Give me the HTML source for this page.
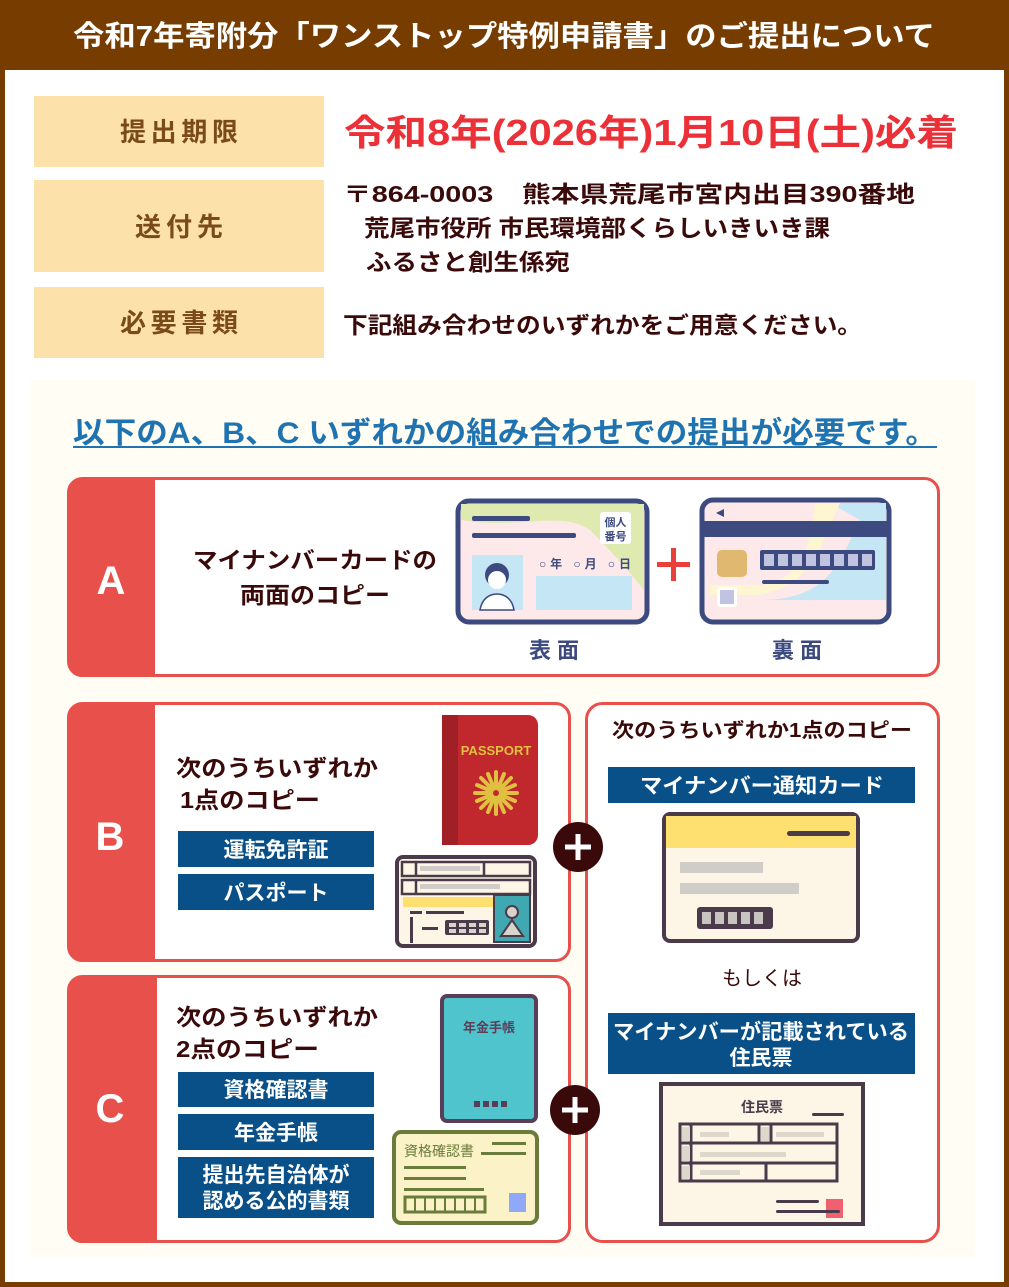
<!DOCTYPE html>
<html><head><meta charset="utf-8"><style>
html,body{margin:0;padding:0;background:#763c00}
svg{display:block}
text{font-family:"Liberation Sans","Noto Sans CJK JP",sans-serif;font-weight:bold}
</style></head><body>
<svg width="1009" height="1287" viewBox="0 0 1009 1287" xmlns="http://www.w3.org/2000/svg">
<rect x="0" y="0" width="1009" height="1287" fill="#763c00"/>
<rect x="5" y="70" width="999" height="1212" fill="#fff"/>
<text x="73" y="46" font-size="29" fill="#fff" textLength="862" lengthAdjust="spacingAndGlyphs">令和7年寄附分「ワンストップ特例申請書」のご提出について</text>

<rect x="34" y="96" width="290" height="71" fill="#fde1aa"/>
<rect x="34" y="180" width="290" height="92" fill="#fde1aa"/>
<rect x="34" y="287" width="290" height="71" fill="#fde1aa"/>
<g font-size="26" fill="#7a4a1a">
<text x="120" y="141" textLength="118">提出期限</text>
<text x="135" y="236" textLength="88">送付先</text>
<text x="120" y="332" textLength="118">必要書類</text>
</g>
<text x="344" y="145" font-size="36" fill="#ec3038" textLength="614" lengthAdjust="spacingAndGlyphs">令和8年(2026年)1月10日(土)必着</text>
<g font-size="23" fill="#3a0a0a">
<text x="343" y="202" textLength="572" lengthAdjust="spacingAndGlyphs">〒864-0003　熊本県荒尾市宮内出目390番地</text>
<text x="364" y="236" textLength="466" lengthAdjust="spacingAndGlyphs">荒尾市役所 市民環境部くらしいきいき課</text>
<text x="366" y="270" textLength="204" lengthAdjust="spacingAndGlyphs">ふるさと創生係宛</text>
<text x="343" y="333" textLength="519" lengthAdjust="spacingAndGlyphs">下記組み合わせのいずれかをご用意ください。</text>
</g>

<rect x="30" y="380" width="945" height="878" fill="#fffdf4"/>
<text x="73" y="443" font-size="30" fill="#1e73b0" textLength="864" lengthAdjust="spacingAndGlyphs">以下のA、B、C いずれかの組み合わせでの提出が必要です。</text>
<rect x="73" y="446" width="864" height="2" fill="#1e73b0"/>

<!-- Box A -->
<rect x="68.5" y="478.5" width="870" height="197" rx="14" fill="#fff" stroke="#e8504c" stroke-width="3"/>
<path d="M68 492a14 14 0 0 1 14-14H155V677H82a14 14 0 0 1-14-14Z" fill="#e8504c"/>
<text x="111" y="594" font-size="40" fill="#fff" text-anchor="middle">A</text>
<g font-size="23" fill="#3a0a0a">
<text x="193" y="568" textLength="244" lengthAdjust="spacingAndGlyphs">マイナンバーカードの</text>
<text x="240" y="603" textLength="150" lengthAdjust="spacingAndGlyphs">両面のコピー</text>
</g>
<!-- front card -->
<rect x="458" y="501" width="189" height="121" rx="11" fill="#fde8ea" stroke="#3d4a80" stroke-width="5"/>
<path d="M461 504H644V590C620 560 600 540 590 530C560 510 520 530 461 520Z" fill="#dfeab0"/>
<rect x="472" y="516" width="58" height="5" rx="2" fill="#3d4a80"/>
<rect x="472" y="533" width="104" height="5" rx="2" fill="#3d4a80"/>
<rect x="600" y="512" width="31" height="32" rx="3" fill="#fff"/>
<text x="615.5" y="526" font-size="11" fill="#3d4a80" text-anchor="middle">個人</text>
<text x="615.5" y="540" font-size="11" fill="#3d4a80" text-anchor="middle">番号</text>
<rect x="472" y="555" width="51" height="55" fill="#c4e6f5"/>
<circle cx="497" cy="575" r="12" fill="#3d4a80"/><circle cx="497" cy="580" r="9" fill="#fff"/>
<path d="M480 610C482 598 490 594 497 594C504 594 512 598 514 610Z" fill="#fff" stroke="#3d4a80" stroke-width="1.5"/>
<text x="539" y="568" font-size="12" fill="#3d4a80" textLength="92">○年 ○月 ○日</text>
<rect x="536" y="576" width="96" height="34" fill="#c4e6f5"/>
<!-- plus -->
<rect x="657" y="562" width="33" height="5" fill="#e8413b"/><rect x="671" y="548" width="5" height="33" fill="#e8413b"/>
<!-- back card -->
<rect x="702" y="500" width="187" height="122" rx="11" fill="#fde8ea" stroke="#3d4a80" stroke-width="5"/>
<path d="M830 503H886V600H760C830 600 840 560 860 520Z" fill="#c4e6f5"/>
<path d="M815 503H840C820 550 810 585 760 595H710V585H760C800 580 810 550 815 503Z" fill="#fdf6d0"/>
<rect x="704" y="521" width="183" height="16" fill="#3d4a80"/>
<path d="M716 513L724 509V517Z" fill="#3d4a80"/>
<rect x="717" y="550" width="30" height="27" rx="5" fill="#e0b870"/>
<rect x="760" y="550" width="115" height="20" rx="2" fill="#3d4a80"/>
<g fill="#c0c4e0"><rect x="764" y="554" width="10" height="12"/><rect x="778" y="554" width="10" height="12"/><rect x="792" y="554" width="10" height="12"/><rect x="806" y="554" width="10" height="12"/><rect x="820" y="554" width="10" height="12"/><rect x="834" y="554" width="10" height="12"/><rect x="848" y="554" width="10" height="12"/><rect x="862" y="554" width="10" height="12"/></g>
<rect x="762" y="580" width="67" height="4" rx="2" fill="#3d4a80"/>
<rect x="717" y="587" width="20" height="20" rx="3" fill="#fff"/><rect x="720" y="590" width="14" height="14" fill="#c0c4e0"/>
<g font-size="22" fill="#3d4a80" text-anchor="middle" letter-spacing="6">
<text x="557" y="658">表面</text><text x="800" y="658">裏面</text>
</g>

<!-- Box B -->
<rect x="68.5" y="703.5" width="501" height="257" rx="14" fill="#fff" stroke="#e8504c" stroke-width="3"/>
<path d="M68 717a14 14 0 0 1 14-14H155V962H82a14 14 0 0 1-14-14Z" fill="#e8504c"/>
<text x="110" y="850" font-size="40" fill="#fff" text-anchor="middle">B</text>
<g font-size="23" fill="#3a0a0a">
<text x="176" y="776" textLength="202" lengthAdjust="spacingAndGlyphs">次のうちいずれか</text>
<text x="180" y="808" textLength="140" lengthAdjust="spacingAndGlyphs">1点のコピー</text>
</g>
<rect x="178" y="831" width="196" height="36" fill="#0a5088"/>
<rect x="178" y="874" width="196" height="36" fill="#0a5088"/>
<g font-size="21" fill="#fff" text-anchor="middle">
<text x="276" y="857">運転免許証</text><text x="276" y="900">パスポート</text>
</g>
<!-- passport -->
<path d="M442 715H528a10 10 0 0 1 10 10V835a10 10 0 0 1-10 10H442Z" fill="#c0282e"/>
<rect x="442" y="715" width="16" height="130" fill="#a02026"/>
<text x="496" y="755" font-size="13" fill="#e0c040" text-anchor="middle">PASSPORT</text>
<g stroke="#e0c040" stroke-width="4" stroke-linecap="round">
<line x1="496" y1="772" x2="496" y2="814"/><line x1="475" y1="793" x2="517" y2="793"/>
<line x1="481" y1="778" x2="511" y2="808"/><line x1="511" y1="778" x2="481" y2="808"/>
<line x1="488" y1="774" x2="504" y2="812"/><line x1="504" y1="774" x2="488" y2="812"/>
<line x1="477" y1="785" x2="515" y2="801"/><line x1="515" y1="785" x2="477" y2="801"/>
</g>
<circle cx="496" cy="793" r="3" fill="#c0282e"/>
<!-- license -->
<rect x="397" y="857" width="138" height="89" rx="6" fill="#fdf6e6" stroke="#4a3a4a" stroke-width="4"/>
<g fill="none" stroke="#4a3a4a" stroke-width="2.5">
<rect x="402" y="862" width="128" height="14"/><rect x="402" y="880" width="128" height="14"/>
<line x1="416" y1="862" x2="416" y2="876"/><line x1="484" y1="862" x2="484" y2="876"/><line x1="416" y1="880" x2="416" y2="894"/>
</g>
<rect x="420" y="866" width="60" height="5" fill="#d0ccc8"/><rect x="420" y="884" width="80" height="5" fill="#d0ccc8"/>
<rect x="403" y="897" width="90" height="10" fill="#fde070"/>
<rect x="494" y="895" width="36" height="47" fill="#40a8b0" stroke="#4a3a4a" stroke-width="2"/>
<circle cx="512" cy="912" r="6" fill="#d8d4cc" stroke="#4a3a4a" stroke-width="2"/>
<path d="M501 936L512 920L523 936Z" fill="#d8d4cc" stroke="#4a3a4a" stroke-width="2"/>
<rect x="410" y="911" width="12" height="3" fill="#4a3a4a"/><rect x="426" y="911" width="38" height="3" fill="#4a3a4a"/>
<rect x="422" y="927" width="16" height="3" fill="#4a3a4a"/><rect x="410" y="917" width="3" height="26" fill="#4a3a4a"/>
<rect x="445" y="920" width="44" height="15" rx="2" fill="#4a3a4a"/>
<g fill="#d8d4cc"><rect x="449" y="923" width="7" height="4"/><rect x="459" y="923" width="7" height="4"/><rect x="469" y="923" width="7" height="4"/><rect x="479" y="923" width="7" height="4"/><rect x="449" y="929" width="7" height="4"/><rect x="459" y="929" width="7" height="4"/><rect x="469" y="929" width="7" height="4"/><rect x="479" y="929" width="7" height="4"/></g>

<!-- Box C -->
<rect x="68.5" y="976.5" width="501" height="265" rx="14" fill="#fff" stroke="#e8504c" stroke-width="3"/>
<path d="M68 990a14 14 0 0 1 14-14H157V1243H82a14 14 0 0 1-14-14Z" fill="#e8504c"/>
<text x="110" y="1122" font-size="40" fill="#fff" text-anchor="middle">C</text>
<g font-size="23" fill="#3a0a0a">
<text x="176" y="1025" textLength="202" lengthAdjust="spacingAndGlyphs">次のうちいずれか</text>
<text x="176" y="1057" textLength="143" lengthAdjust="spacingAndGlyphs">2点のコピー</text>
</g>
<rect x="178" y="1072" width="196" height="35" fill="#0a5088"/>
<rect x="178" y="1114" width="196" height="36" fill="#0a5088"/>
<rect x="178" y="1157" width="196" height="61" fill="#0a5088"/>
<g font-size="21" fill="#fff" text-anchor="middle">
<text x="276" y="1097">資格確認書</text><text x="276" y="1140">年金手帳</text>
<text x="276" y="1182">提出先自治体が</text><text x="276" y="1208">認める公的書類</text>
</g>
<rect x="442" y="996" width="94" height="125" rx="5" fill="#50c4cc" stroke="#5a3e58" stroke-width="4"/>
<text x="489" y="1032" font-size="13" fill="#5a3e58" text-anchor="middle">年金手帳</text>
<g fill="#5a3e58"><rect x="474" y="1101" width="6" height="6"/><rect x="483" y="1101" width="6" height="6"/><rect x="492" y="1101" width="6" height="6"/><rect x="501" y="1101" width="6" height="6"/></g>
<rect x="394" y="1132" width="143" height="91" rx="7" fill="#fbf2c8" stroke="#6a7c3a" stroke-width="4"/>
<text x="404" y="1156" font-size="14" fill="#6a7c3a" style="font-weight:normal">資格確認書</text>
<g fill="#6a7c3a"><rect x="492" y="1142" width="34" height="3"/><rect x="481" y="1152" width="45" height="3"/><rect x="404" y="1166" width="62" height="3"/><rect x="404" y="1177" width="62" height="3"/><rect x="404" y="1188" width="80" height="3"/></g>
<rect x="405" y="1197" width="80" height="15" fill="#fbf2c8" stroke="#6a7c3a" stroke-width="3"/>
<g stroke="#6a7c3a" stroke-width="2"><line x1="415" y1="1197" x2="415" y2="1212"/><line x1="425" y1="1197" x2="425" y2="1212"/><line x1="435" y1="1197" x2="435" y2="1212"/><line x1="445" y1="1197" x2="445" y2="1212"/><line x1="455" y1="1197" x2="455" y2="1212"/><line x1="465" y1="1197" x2="465" y2="1212"/><line x1="475" y1="1197" x2="475" y2="1212"/></g>
<rect x="509" y="1193" width="17" height="19" fill="#90a8f8"/>

<!-- right box -->
<rect x="586.5" y="703.5" width="352" height="538" rx="16" fill="#fff" stroke="#e8504c" stroke-width="3"/>
<text x="612" y="737" font-size="20" fill="#3a0a0a" textLength="300" lengthAdjust="spacingAndGlyphs">次のうちいずれか1点のコピー</text>
<rect x="608" y="767" width="307" height="36" fill="#0a5088"/>
<text x="640" y="793" font-size="21" fill="#fff" textLength="244" lengthAdjust="spacingAndGlyphs">マイナンバー通知カード</text>
<rect x="664" y="814" width="194" height="127" rx="6" fill="#fdf6e6" stroke="#4a3a4a" stroke-width="4"/>
<rect x="666" y="816" width="190" height="32" fill="#fde070"/>
<rect x="787" y="831" width="63" height="5" rx="2.5" fill="#4a3a4a"/>
<rect x="680" y="862" width="83" height="11" fill="#d0ccc8"/><rect x="680" y="883" width="119" height="11" fill="#d0ccc8"/>
<rect x="697" y="907" width="76" height="22" rx="3" fill="#4a3a4a"/>
<g fill="#c8c4c0"><rect x="702" y="912" width="9" height="12"/><rect x="715" y="912" width="9" height="12"/><rect x="728" y="912" width="9" height="12"/><rect x="741" y="912" width="9" height="12"/><rect x="754" y="912" width="9" height="12"/></g>
<text x="762" y="985" font-size="20" fill="#3a0a0a" text-anchor="middle" style="font-weight:normal">もしくは</text>
<rect x="608" y="1013" width="307" height="61" fill="#0a5088"/>
<text x="613" y="1039" font-size="21" fill="#fff" textLength="296" lengthAdjust="spacingAndGlyphs">マイナンバーが記載されている</text>
<text x="761" y="1065" font-size="21" fill="#fff" text-anchor="middle">住民票</text>
<rect x="661" y="1084" width="202" height="140" fill="#fdf6e6" stroke="#4a3a4a" stroke-width="4"/>
<text x="762" y="1112" font-size="14" fill="#4a3a4a" text-anchor="middle">住民票</text>
<rect x="812" y="1113" width="32" height="3" rx="1.5" fill="#4a3a4a"/>
<rect x="680" y="1124" width="157" height="57" fill="#fdf6e6" stroke="#4a3a4a" stroke-width="3"/>
<g stroke="#4a3a4a" stroke-width="3"><line x1="680" y1="1143" x2="837" y2="1143"/><line x1="680" y1="1163" x2="837" y2="1163"/><line x1="691" y1="1124" x2="691" y2="1181"/><line x1="759" y1="1124" x2="759" y2="1143"/><line x1="771" y1="1124" x2="771" y2="1143"/><line x1="766" y1="1163" x2="766" y2="1181"/></g>
<g fill="#dcd8cc"><rect x="682" y="1127" width="8" height="14"/><rect x="682" y="1146" width="8" height="15"/><rect x="682" y="1166" width="8" height="13"/><rect x="761" y="1127" width="8" height="14"/><rect x="700" y="1132" width="29" height="5"/><rect x="776" y="1132" width="48" height="5"/><rect x="700" y="1152" width="86" height="5"/><rect x="700" y="1170" width="40" height="5"/></g>
<rect x="826" y="1199" width="17" height="19" fill="#f06070"/>
<rect x="776" y="1200" width="43" height="3" rx="1.5" fill="#4a3a4a"/><rect x="776" y="1210" width="64" height="3" rx="1.5" fill="#4a3a4a"/>

<!-- plus circles -->
<circle cx="578" cy="847" r="25" fill="#3a0a0a"/>
<rect x="565" y="844.5" width="26" height="5" fill="#fff"/><rect x="575.5" y="834" width="5" height="26" fill="#fff"/>
<circle cx="575" cy="1110" r="25" fill="#3a0a0a"/>
<rect x="562" y="1107.5" width="26" height="5" fill="#fff"/><rect x="572.5" y="1097" width="5" height="26" fill="#fff"/>
</svg>
</body></html>
